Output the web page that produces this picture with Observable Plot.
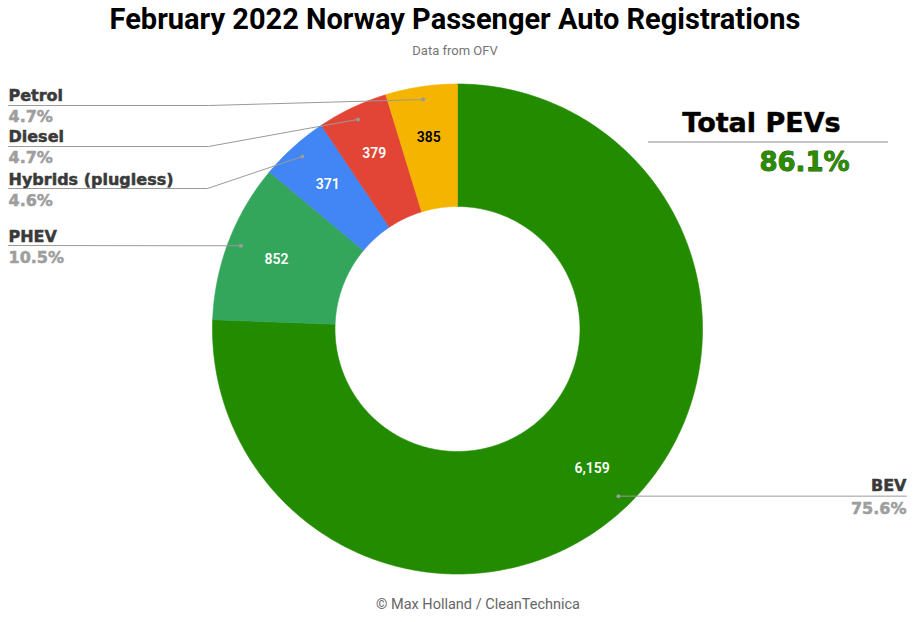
<!DOCTYPE html>
<html><head><meta charset="utf-8">
<script src="https://cdn.jsdelivr.net/npm/d3@7"></script>
<script src="https://cdn.jsdelivr.net/npm/@observablehq/plot@0.6"></script>
<style>
body{margin:0;background:#fff;}
#wrap{position:relative;width:924px;height:622px;overflow:hidden;font-family:Roboto,sans-serif;}
#title{position:absolute;left:0;width:910px;top:5px;text-align:center;font-size:29px;font-weight:700;line-height:29px;color:#000;white-space:nowrap;}
#sub{position:absolute;left:0;width:910px;top:44px;text-align:center;font-size:13px;line-height:13px;color:#757575;}
#chart{position:absolute;left:0;top:60px;}
#cap{position:absolute;left:0;width:956px;top:597px;text-align:center;font-size:14.5px;line-height:15px;color:#666;}
</style></head>
<body>
<div id="wrap">
  <div id="title">February 2022 Norway Passenger Auto Registrations</div>
  <div id="sub">Data from OFV</div>
  <div id="chart"></div>
  <div id="cap">© Max Holland / CleanTechnica</div>
</div>
<script>
// ---- data ----
const categories = ["BEV", "PHEV", "Hybrids (plugless)", "Diesel", "Petrol"];
const registrations = [6159, 852, 371, 379, 385];
const pevCategories = ["BEV", "PHEV"];

// ---- styles ----
const sliceColors = ["#238b00", "#33a65c", "#4285f4", "#e24536", "#f4b400"];
const valueLabelColors = ["#fff", "#fff", "#fff", "#fff", "#000"];

// ---- layout (svg pixel space) ----
const W = 924, H = 532;
const cx = 457, cy = 268.5, R = 245, R0 = 122.5;
const dotR = 232, valueR = 194;
const leftRows = {
  "Petrol":             {name: 40,  pct: 61,  under: 45,  elbow: 208},
  "Diesel":             {name: 81,  pct: 102, under: 86,  elbow: 208},
  "Hybrids (plugless)": {name: 124, pct: 145, under: 128, elbow: 207},
  "PHEV":               {name: 181, pct: 202, under: 185, elbow: null}
};
const rightRows = {"BEV": {name: 430, pct: 453, right: 906}};

const total = d3.sum(registrations);
const arcs = d3.pie().sort(null).value(d => d)(registrations);
const pol = (r, a) => ({x: cx + r * Math.sin(a), y: cy - r * Math.cos(a)});

const polys = [];
arcs.forEach((a, i) => {
  const n = Math.max(6, Math.ceil((a.endAngle - a.startAngle) / (2 * Math.PI) * 480));
  const ring = [];
  for (let k = 0; k <= n; k++) ring.push(pol(R, a.startAngle + (a.endAngle - a.startAngle) * k / n));
  for (let k = n; k >= 0; k--) ring.push(pol(R0, a.startAngle + (a.endAngle - a.startAngle) * k / n));
  ring.push(ring[0]);
  ring.forEach(p => polys.push({key: i, color: sliceColors[i], ...p}));
});

const mids = arcs.map((a, i) => {
  const m = (a.startAngle + a.endAngle) / 2;
  return {i, cat: categories[i], value: registrations[i], pct: registrations[i] / total,
          dot: pol(dotR, m), lab: pol(valueR, m)};
});

const leaders = [];
const legendTexts = [];
mids.forEach(m => {
  const L = leftRows[m.cat];
  if (L) {
    leaders.push({k: m.cat, x: 8, y: L.under});
    if (L.elbow != null) leaders.push({k: m.cat, x: L.elbow, y: L.under});
    leaders.push({k: m.cat, x: m.dot.x, y: m.dot.y});
    legendTexts.push({x: 8, y: L.name, t: m.cat, kind: "name", side: "left"});
    legendTexts.push({x: 8, y: L.pct, t: d3.format(".1%")(m.pct), kind: "pct", side: "left"});
  }
  const Rr = rightRows[m.cat];
  if (Rr) {
    leaders.push({k: m.cat, x: m.dot.x, y: m.dot.y});
    leaders.push({k: m.cat, x: Rr.right, y: m.dot.y});
    legendTexts.push({x: Rr.right, y: Rr.name, t: m.cat, kind: "name", side: "right"});
    legendTexts.push({x: Rr.right, y: Rr.pct, t: d3.format(".1%")(m.pct), kind: "pct", side: "right"});
  }
});

const pevShare = d3.sum(categories.map((c, i) => pevCategories.includes(c) ? registrations[i] : 0)) / total;

const heavy = "DejaVu Sans, Liberation Sans, sans-serif";
const legendMarks = [];
for (const side of ["left", "right"]) {
  for (const kind of ["name", "pct"]) {
    const col = kind === "name" ? "#3a3a3a" : "#9e9e9e";
    legendMarks.push(Plot.text(legendTexts.filter(d => d.side === side && d.kind === kind), {
      x: "x", y: "y", text: "t", textAnchor: side === "left" ? "start" : "end", lineAnchor: "bottom",
      fill: col, stroke: col, strokeWidth: 0.5, fontFamily: heavy, fontSize: 16, fontWeight: 700}));
  }
}

const chart = Plot.plot({
  width: W, height: H, margin: 0,
  x: {domain: [0, W], range: [0, W], axis: null},
  y: {domain: [0, H], range: [0, H], axis: null},
  color: {type: "identity"},
  marks: [
    Plot.line(polys, {x: "x", y: "y", z: "key", fill: "color", stroke: "color", strokeWidth: 0.6, curve: "linear"}),
    Plot.line(leaders, {x: "x", y: "y", z: "k", stroke: "#9a9a9a", strokeWidth: 1}),
    Plot.dot(mids, {x: d => d.dot.x, y: d => d.dot.y, r: 2, fill: "#9a9a9a", stroke: null}),
    Plot.text(mids, {x: d => d.lab.x, y: d => d.lab.y, text: d => d3.format(",")(d.value),
      fill: d => valueLabelColors[d.i], fontFamily: "Roboto, sans-serif", fontSize: 14, fontWeight: 600}),
    ...legendMarks,
    Plot.text(["Total PEVs"], {x: 761, y: 71, text: d => d, lineAnchor: "bottom",
      fill: "#000", stroke: "#5a3a10", strokeWidth: 0.6, fontFamily: heavy, fontSize: 27, fontWeight: 700}),
    Plot.ruleY([81.5], {x1: 648, x2: 888, stroke: "#c4c4c4", strokeWidth: 2}),
    Plot.text([pevShare], {x: 804, y: 110, text: d => d3.format(".1%")(d), lineAnchor: "bottom",
      fill: "#2a8c00", stroke: "#1d4a08", strokeWidth: 0.8, fontFamily: heavy, fontSize: 26, fontWeight: 700})
  ]
});
document.getElementById("chart").appendChild(chart);
</script>
</body></html>
